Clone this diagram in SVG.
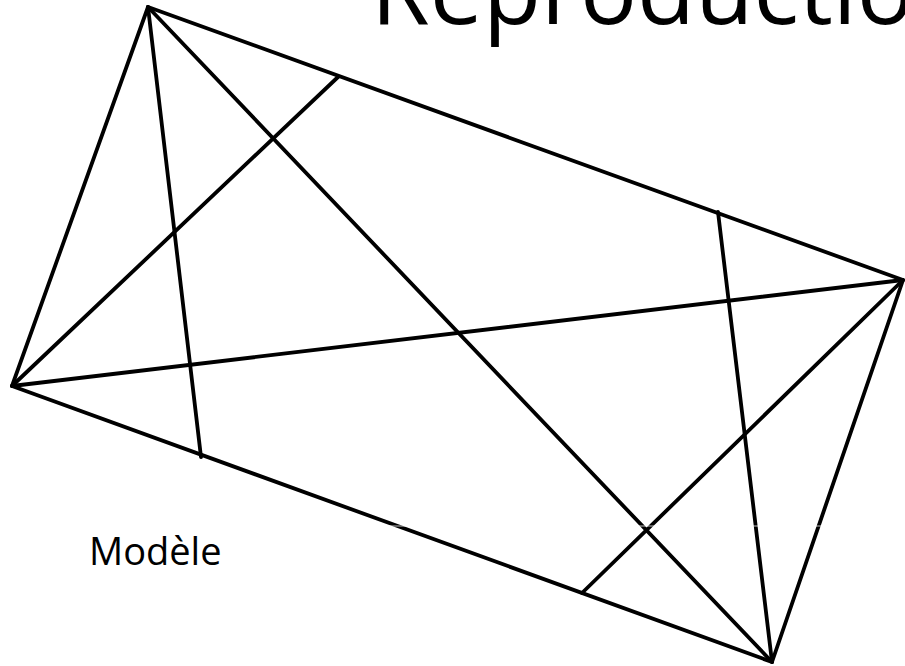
<svg xmlns="http://www.w3.org/2000/svg" width="905" height="666" viewBox="0 0 905 666">
<style>
.edge{stroke:#000;stroke-width:3.8;fill:none;stroke-linecap:round;stroke-linejoin:round}
.title{font-family:"Open Sans","Liberation Sans",sans-serif;font-size:95px;fill:#000}
.label{font-family:"Open Sans","Liberation Sans",sans-serif;font-size:38px;fill:#000}
</style>
<rect width="905" height="666" fill="#fff"/>
<g id="title"><text class="title" x="371" y="24">Reproduction</text></g>
<g id="connectors">
<polygon class="edge" points="148,7 903,280 772,662 12,386"/>
<line class="edge" x1="148" y1="7" x2="772" y2="662"/>
<line class="edge" x1="12" y1="386" x2="903" y2="280"/>
<line class="edge" x1="148" y1="7" x2="201" y2="457"/>
<line class="edge" x1="12" y1="386" x2="338" y2="77"/>
<line class="edge" x1="718" y1="212" x2="772" y2="662"/>
<line class="edge" x1="582" y1="593" x2="903" y2="280"/>
</g>
<line x1="388" y1="526" x2="830" y2="526" stroke="#fff" stroke-width="1" stroke-opacity="0.75"/>
<g id="label-modele"><text class="label" x="89" y="565">Modèle</text></g>
</svg>
